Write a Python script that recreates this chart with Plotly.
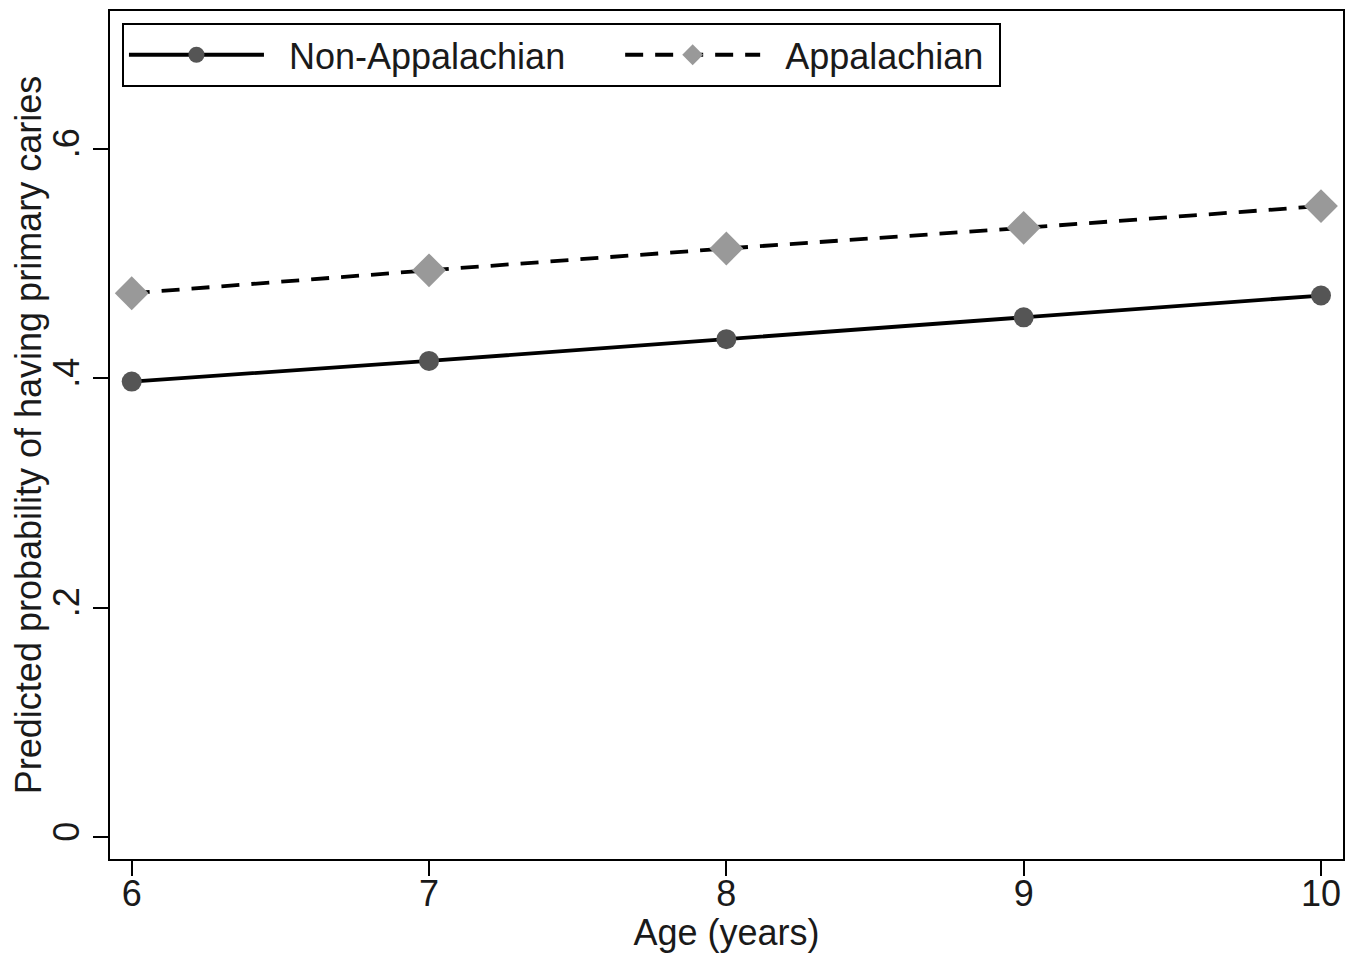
import plotly.graph_objects as go

ages = [6, 7, 8, 9, 10]
non_appalachian = [0.397, 0.415, 0.434, 0.453, 0.472]
appalachian = [0.474, 0.494, 0.513, 0.531, 0.550]
y_tick_vals = [0, 0.2, 0.4, 0.6]
y_tick_text = ["0", ".2", ".4", ".6"]
x_tick_vals = [6, 7, 8, 9, 10]
series_names = ["Non-Appalachian", "Appalachian"]

FONT = "Liberation Sans, Arial, sans-serif"
TXT = "#1a1a1a"
FS = 36
NB = "\u00a0"

fig = go.Figure()
fig.add_trace(go.Scatter(
    x=ages, y=non_appalachian, name=NB * 2 + series_names[0] + NB * 5,
    mode="lines+markers",
    line=dict(color="black", width=3.8),
    marker=dict(symbol="circle", size=20, color="#555555"),
))
fig.add_trace(go.Scatter(
    x=ages, y=appalachian, name=NB * 2 + series_names[1] + NB,
    mode="lines+markers",
    line=dict(color="black", width=3.8, dash="18px,12px"),
    marker=dict(symbol="diamond", size=26, color="#999999"),
))

fig.update_layout(
    width=1342, height=945,
    margin=dict(l=102, r=7, t=1, b=94),
    paper_bgcolor="white", plot_bgcolor="white",
    font=dict(family=FONT, size=FS, color=TXT),
    showlegend=True,
    legend=dict(
        orientation="h", x=0.0097, y=0.986, xanchor="left", yanchor="top",
        bordercolor="black", borderwidth=2, bgcolor="white",
        font=dict(family=FONT, size=FS, color=TXT),
        itemwidth=135, itemsizing="trace",
        traceorder="normal",
    ),
    xaxis=dict(
        range=[5.927, 10.074], tickvals=x_tick_vals,
        ticks="outside", ticklen=15, tickwidth=2, tickcolor="black",
        showline=True, linecolor="black", linewidth=2, mirror=True,
        showgrid=False, zeroline=False,
        tickfont=dict(family=FONT, size=FS, color=TXT),
        ticklabelstandoff=-13,
        title=dict(text="Age (years)", font=dict(family=FONT, size=FS, color=TXT), standoff=13),
    ),
    yaxis=dict(
        range=[-0.0191, 0.72], tickvals=y_tick_vals, ticktext=y_tick_text,
        tickangle=-90,
        ticks="outside", ticklen=15, tickwidth=2, tickcolor="black",
        showline=True, linecolor="black", linewidth=2, mirror=True,
        showgrid=False, zeroline=False,
        tickfont=dict(family=FONT, size=FS, color=TXT),
        title=dict(text="Predicted probability of having primary caries",
                   font=dict(family=FONT, size=FS, color=TXT), standoff=6),
    ),
)

fig.write_html("out.html")
